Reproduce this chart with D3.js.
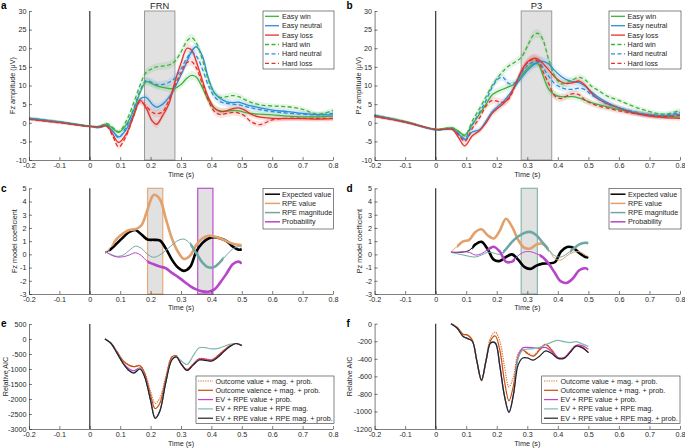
<!DOCTYPE html>
<html><head><meta charset="utf-8">
<script src="https://cdn.jsdelivr.net/npm/d3@7"></script>
<style>body{margin:0;background:#fff;overflow:hidden}</style>
</head><body><script>
// ---------------- DATA ----------------
const xTickValues = [-0.2,-0.1,0,0.1,0.2,0.3,0.4,0.5,0.6,0.7,0.8];
const xTickLabels = ["-0.2","-0.1","0","0.1","0.2","0.3","0.4","0.5","0.6","0.7","0.8"];
const yTicksAB = [-10,-5,0,5,10,15,20,25,30];
const yTicksCD = [-3,-2,-1,0,1,2,3,4,5];
const yTicksE = [-3000,-2500,-2000,-1500,-1000,-500,0,500];
const yTicksF = [-1200,-1000,-800,-600,-400,-200,0];

const conditionNames = ["Easy win","Easy neutral","Easy loss","Hard win","Hard neutral","Hard loss"];
const regressorNames = ["Expected value","RPE value","RPE magnitude","Probability"];
const modelNames = ["Outcome value + mag. + prob.","Outcome valence + mag. + prob.","EV + RPE value + prob.","EV + RPE value + RPE mag.","EV + RPE value + RPE mag. + prob."];

const frnWindow = [0.18,0.28];
const p3Window = [0.28,0.38];
const fzCoefWindows = [[0.19,0.24],[0.355,0.405]];
const pzCoefWindows = [[0.28,0.333]];

// ERP time grid (s)
const timeAB = [-0.2,-0.1,0,0.03,0.055,0.075,0.095,0.12,0.145,0.165,0.185,0.205,0.22,0.24,0.26,0.28,0.3,0.32,0.335,0.35,0.37,0.39,0.41,0.43,0.45,0.47,0.49,0.51,0.53,0.56,0.6,0.65,0.7,0.75,0.8];
const semAB = [0.4,0.4,0.3,0.3,0.4,0.5,0.6,0.7,0.8,0.9,1.0,1.0,1.0,1.0,1.0,1.1,1.1,1.2,1.2,1.2,1.2,1.1,1.0,0.9,0.9,0.9,0.9,0.8,0.8,0.8,0.7,0.7,0.7,0.7,0.7];

// Fz amplitude (uV)
const fzEasyWin     = [1.2,0.2,-0.9,-1.0,-0.4,-1.5,-2.6,-0.5,3.5,8.0,11.0,10.5,9.9,9.5,9.2,9.2,10.3,12.0,12.7,12.3,9.5,6.0,3.8,3.2,3.1,3.3,3.2,2.8,2.5,2.3,2.1,1.8,1.6,1.6,1.8];
const fzEasyNeutral = [1.2,0.2,-1.0,-1.3,-0.8,-2.2,-3.8,-1.8,2.5,6.3,6.8,5.0,4.2,5.0,6.8,9.5,12.8,16.5,19.2,20.4,18.0,12.0,8.0,6.5,5.6,5.4,5.5,5.0,4.5,4.0,3.4,3.0,2.5,2.2,2.1];
const fzEasyLoss    = [1.0,0.1,-1.0,-1.1,-0.8,-3.0,-5.3,-3.0,2.0,6.0,4.0,0.5,-0.4,2.0,5.0,11.0,16.0,20.0,19.5,16.5,11.5,6.8,4.0,3.0,3.2,3.8,4.0,3.4,2.3,1.5,1.2,1.1,1.1,1.0,1.1];
const fzHardWin     = [1.2,0.2,-0.9,-1.0,-0.2,-1.2,-2.4,0.5,5.5,10.0,13.5,14.5,15.0,15.2,15.5,16.5,19.0,22.0,22.8,21.5,17.0,11.5,8.0,6.8,7.0,7.3,7.0,6.2,5.5,4.8,4.5,4.3,3.6,2.3,3.3];
const fzHardNeutral = [1.2,0.2,-1.0,-1.3,-0.8,-2.2,-4.0,-1.0,4.0,8.5,11.3,10.8,10.2,10.3,10.8,12.0,14.5,17.5,18.8,18.0,14.5,10.0,7.0,5.6,5.2,5.0,4.8,4.4,4.0,3.5,3.0,2.6,2.3,2.1,2.5];
const fzHardLoss    = [0.9,0.0,-1.0,-1.1,-0.9,-3.5,-6.5,-3.5,2.0,5.6,4.5,2.8,2.4,3.0,6.0,10.0,13.5,16.2,16.4,14.8,10.5,6.0,3.0,2.2,2.5,2.8,2.6,1.8,0.3,-0.5,0.8,1.2,1.2,1.2,1.2];

// Pz amplitude (uV)
const pzEasyWin     = [2.0,0.3,-1.8,-1.5,-1.4,-2.3,-3.3,-0.5,2.5,5.0,7.5,8.5,9.0,9.7,10.5,12.5,14.5,15.8,15.8,13.0,9.0,7.5,7.0,7.0,7.0,6.6,6.0,5.4,4.9,4.3,3.5,2.7,2.1,1.8,1.5];
const pzEasyNeutral = [2.0,0.2,-1.9,-1.8,-1.8,-3.0,-4.5,-2.5,-1.8,0.5,3.0,4.5,5.5,7.5,9.8,12.0,14.0,15.5,16.3,16.5,15.8,14.0,12.5,11.5,11.0,10.8,9.8,8.3,7.0,5.5,4.0,2.8,2.0,1.8,2.3];
const pzEasyLoss    = [1.7,0.2,-1.8,-1.7,-1.8,-4.0,-6.2,-3.5,-2.0,0.0,2.5,4.0,5.0,6.8,10.0,13.8,16.3,17.3,17.0,16.0,14.2,12.3,11.0,10.5,10.8,11.2,10.0,8.0,6.5,5.2,4.0,2.6,1.8,1.4,1.2];
const pzHardWin     = [2.0,0.3,-1.8,-1.5,-1.4,-2.3,-3.5,0.5,4.0,7.0,10.0,12.3,13.8,15.3,16.3,17.5,20.5,23.5,24.0,22.5,17.0,12.5,10.5,10.8,11.6,12.2,11.5,9.8,8.8,7.2,6.0,4.3,3.0,2.3,3.3];
const pzHardNeutral = [2.0,0.2,-1.9,-1.8,-1.7,-2.8,-4.2,-0.5,3.0,6.0,9.5,11.8,12.2,10.5,10.8,13.2,15.3,16.3,16.5,15.0,12.5,10.5,9.5,9.0,9.0,9.3,8.8,7.5,6.5,5.0,4.0,3.0,2.2,2.0,2.8];
const pzHardLoss    = [1.7,0.2,-1.8,-1.7,-1.7,-3.3,-5.0,-1.5,1.5,4.5,6.0,5.7,5.5,6.5,10.0,13.5,16.0,17.0,16.5,14.0,10.5,7.2,6.5,7.2,7.8,7.5,6.0,5.2,4.6,4.0,3.2,2.5,2.0,1.7,2.0];

// model coefficient time grid (s)
const timeCD = [0.05,0.07,0.09,0.11,0.13,0.15,0.17,0.19,0.21,0.23,0.25,0.27,0.29,0.31,0.33,0.35,0.37,0.39,0.41,0.43,0.45,0.47,0.49,0.5];
const coefFzEV       = [0.1,0.4,0.85,1.3,1.7,1.85,1.5,1.12,1.1,1.05,0.45,-0.4,-1.0,-1.25,-0.95,0.2,0.85,1.2,1.3,1.2,1.0,0.6,0.35,0.38];
const coefFzRpeValue = [0.13,0.6,1.2,1.6,1.85,1.9,2.2,3.4,4.5,4.2,2.7,1.2,0.2,-0.35,-0.1,0.7,1.2,1.4,1.35,1.2,1.0,0.8,0.72,0.7];
const coefFzRpeMag   = [0.2,0.0,-0.15,-0.05,0.3,0.62,0.45,0.0,-0.22,-0.05,0.3,0.7,1.05,1.15,0.8,0.1,-0.6,-0.98,-0.95,-0.55,-0.05,0.4,0.6,0.55];
const coefFzProb     = [0.25,-0.05,-0.2,-0.18,-0.05,0.12,-0.1,-0.55,-0.75,-0.92,-1.05,-1.4,-1.7,-2.05,-2.4,-2.65,-2.8,-2.83,-2.65,-2.1,-1.45,-0.75,-0.55,-0.7];
const coefPzEV       = [0.15,0.15,0.18,0.3,0.75,0.95,0.4,-0.4,-0.5,-0.2,0.0,-0.4,-0.95,-1.1,-0.85,-0.7,-0.68,-0.6,0.2,0.55,0.5,0.1,-0.2,-0.23];
const coefPzRpeValue = [0.2,0.6,0.98,1.1,1.7,1.9,1.45,1.2,1.8,2.7,2.1,1.1,0.5,0.45,0.75,0.8,0.35,-0.3,-0.43,-0.1,0.15,0.2,-0.05,-0.18];
const coefPzRpeMag   = [0.15,0.05,-0.05,-0.15,-0.2,-0.05,0.15,0.1,0.0,0.4,0.95,1.35,1.62,1.7,1.45,0.9,0.35,-0.1,-0.2,0.05,0.4,0.75,0.88,0.85];
const coefPzProb     = [0.2,0.15,0.2,0.15,-0.05,0.05,0.35,0.58,0.2,-0.55,-0.55,-0.1,0.18,0.2,0.05,-0.2,-0.7,-1.4,-2.05,-2.15,-1.8,-1.2,-1.05,-1.15];
// significant (thick) stretches per regressor
const sigFz = [[[0.065,0.5]],[[0.075,0.5]],[[0.33,0.44]],[[0.19,0.5]]];
const sigPz = [[[0.12,0.5]],[[0.07,0.37]],[[0.22,0.37],[0.44,0.5]],[[0.17,0.26],[0.34,0.5]]];

// relative AIC
const timeE = [0.05,0.07,0.09,0.11,0.13,0.145,0.165,0.18,0.2,0.215,0.23,0.25,0.27,0.285,0.3,0.32,0.34,0.36,0.38,0.4,0.42,0.44,0.46,0.48,0.5];
const aicFzOutcomeValue   = [0,-140,-430,-730,-880,-920,-880,-1100,-1750,-2150,-1980,-1250,-600,-560,-820,-1010,-830,-650,-660,-690,-560,-380,-220,-150,-220];
const aicFzOutcomeValence = [0,-140,-430,-730,-880,-920,-890,-1130,-1880,-2320,-2150,-1330,-600,-560,-830,-1020,-840,-660,-670,-700,-570,-390,-230,-150,-220];
const aicFzEvRpeProb      = [0,-150,-470,-800,-1000,-1060,-960,-1220,-2030,-2620,-2400,-1430,-680,-590,-820,-1040,-860,-680,-690,-720,-600,-420,-250,-150,-220];
const aicFzEvRpeMag       = [0,-150,-480,-820,-1060,-1120,-990,-1240,-2040,-2640,-2410,-1440,-690,-590,-720,-850,-560,-290,-290,-330,-320,-250,-180,-150,-200];
const aicFzFull           = [0,-150,-480,-820,-1060,-1140,-1000,-1250,-2050,-2650,-2420,-1450,-700,-600,-820,-1050,-870,-700,-710,-740,-620,-430,-260,-150,-220];

const timeF = [0.05,0.07,0.09,0.105,0.12,0.135,0.15,0.165,0.18,0.195,0.21,0.225,0.24,0.255,0.27,0.285,0.3,0.32,0.34,0.36,0.38,0.4,0.42,0.44,0.46,0.48,0.5];
const aicPzOutcomeValue   = [0,-40,-120,-130,-190,-430,-650,-400,-160,-95,-200,-480,-720,-600,-340,-290,-330,-360,-290,-235,-300,-385,-390,-320,-250,-270,-330];
const aicPzOutcomeValence = [0,-40,-120,-130,-190,-430,-650,-420,-190,-140,-300,-650,-880,-700,-380,-300,-340,-370,-300,-235,-300,-385,-390,-320,-250,-270,-330];
const aicPzEvRpeProb      = [0,-50,-145,-170,-200,-430,-640,-420,-220,-220,-480,-820,-1010,-800,-380,-275,-270,-275,-280,-270,-320,-385,-390,-320,-245,-250,-290];
const aicPzEvRpeMag       = [0,-50,-145,-170,-200,-430,-640,-420,-215,-215,-480,-820,-1000,-800,-400,-300,-290,-285,-270,-240,-210,-190,-205,-215,-205,-230,-260];
const aicPzFull           = [0,-50,-145,-170,-200,-430,-640,-420,-220,-220,-480,-820,-1010,-800,-470,-390,-390,-415,-370,-310,-340,-395,-395,-330,-255,-275,-330];

// ---------------- STYLE ----------------
const FONT = '"Liberation Sans", Arial, Helvetica, sans-serif';
const FS = 7.2;
const AXC = '#262626';
const condColors = ['#3cb43c','#2b8fd8','#e4322b','#3cb43c','#2b8fd8','#e4322b'];
const condDash = [null,null,null,'4,2.5','4,2.5','4,2.5'];
const regColors = ['#000000','#e2a06a','#6fa8a3','#b646c8'];
const modelColors = ['#d9733a','#cc4c0a','#c640d0','#80b8b0','#222222'];
const modelDash = ['1.3,1.1',null,null,null,null];

const svg = d3.select('body').append('svg').attr('width',685).attr('height',448);
let clipId = 0;

function scales(box, ydom){
  return {x: d3.scaleLinear().domain([-0.2,0.8]).range([box.x0,box.x1]),
          y: d3.scaleLinear().domain(ydom).range([box.y1,box.y0])};
}
function curveLine(s){
  return d3.line().x(d=>s.x(d[0])).y(d=>s.y(d[1])).curve(d3.curveCatmullRom.alpha(0.5));
}
function drawAxes(box, s, yTicks){
  const gx = svg.append('g').attr('transform',`translate(0,${box.y1})`)
    .call(d3.axisBottom(s.x).tickValues(xTickValues).tickFormat((d,i)=>xTickLabels[i]).tickSizeInner(-3).tickSizeOuter(0).tickPadding(3));
  const gy = svg.append('g').attr('transform',`translate(${box.x0},0)`)
    .call(d3.axisLeft(s.y).tickValues(yTicks).tickFormat(d=>String(d)).tickSizeInner(-3).tickSizeOuter(0).tickPadding(2.5));
  [gx,gy].forEach(g=>{
    g.attr('font-size',FS).attr('font-family',FONT);
    g.selectAll('text').attr('fill',AXC);
    g.selectAll('line,path').attr('stroke',AXC).attr('stroke-width',0.6);
  });
}
function text(x,y,str,opt={}){
  const t = svg.append('text').attr('x',x).attr('y',y).text(str)
    .attr('font-family',FONT).attr('font-size',opt.size||FS).attr('fill',opt.fill||AXC)
    .attr('text-anchor',opt.anchor||'start');
  if(opt.bold) t.attr('font-weight','bold');
  if(opt.rotate) t.attr('transform',`rotate(-90,${x},${y})`);
  return t;
}
function zeroLine(box,s){
  svg.append('line').attr('x1',s.x(0)).attr('x2',s.x(0)).attr('y1',box.y0).attr('y2',box.y1)
    .attr('stroke','#333').attr('stroke-width',1.2);
}
function windowRect(s, w, stroke, sw){
  const [d0,d1] = s.y.domain();
  svg.append('rect').attr('x',s.x(w[0])).attr('width',s.x(w[1])-s.x(w[0]))
    .attr('y',s.y(d1)).attr('height',s.y(d0)-s.y(d1))
    .attr('fill','#e2e1e2').attr('stroke',stroke).attr('stroke-width',sw);
}
function legend(x0,x1,y0,y1,rowY,names,colors,dashes,widths,sx0,sx1,tx){
  svg.append('rect').attr('x',x0).attr('y',y0).attr('width',x1-x0).attr('height',y1-y0)
    .attr('fill','#fff').attr('stroke','#333').attr('stroke-width',0.6);
  names.forEach((n,i)=>{
    const yy = rowY[i];
    const l = svg.append('line').attr('x1',sx0).attr('x2',sx1).attr('y1',yy).attr('y2',yy)
      .attr('stroke',colors[i]).attr('stroke-width',widths[i]);
    if(dashes[i]) l.attr('stroke-dasharray',dashes[i]);
    text(tx,yy+2.5,n);
  });
}

// ---------------- ERP PANELS (a, b) ----------------
function erpPanel(box, series, win, title, ylabel, ylx, letter, lpos, leg){
  const s = scales(box,[-10,30]);
  windowRect(s, win, '#9a9a9a', 1);
  zeroLine(box,s);
  const area = d3.area().x(d=>s.x(d[0])).y0(d=>s.y(d[1]-d[2])).y1(d=>s.y(d[1]+d[2])).curve(d3.curveCatmullRom.alpha(0.5));
  series.forEach((vals,i)=>{
    const pts = timeAB.map((t,k)=>[t,vals[k],semAB[k]]);
    svg.append('path').attr('d',area(pts)).attr('fill',condColors[i]).attr('fill-opacity',0.13).attr('stroke','none');
  });
  series.forEach((vals,i)=>{
    const pts = timeAB.map((t,k)=>[t,vals[k]]);
    const p = svg.append('path').attr('d',curveLine(s)(pts)).attr('fill','none')
      .attr('stroke',condColors[i]).attr('stroke-width',1.3);
    if(condDash[i]) p.attr('stroke-dasharray',condDash[i]);
  });
  drawAxes(box,s,yTicksAB);
  text(s.x((win[0]+win[1])/2), 9.3, title, {anchor:'middle', size:9.4});
  text(ylx,(box.y0+box.y1)/2,ylabel,{anchor:'middle',rotate:true});
  text((box.x0+box.x1)/2, box.y1+17.3, 'Time (s)', {anchor:'middle'});
  text(lpos[0],lpos[1],letter,{bold:true,size:10,fill:'#000'});
  const rows = [16.3,25.7,35.1,44.5,53.9,63.3];
  legend(leg[0],leg[1],11,69,rows,conditionNames,condColors,condDash,[1.3,1.3,1.3,1.3,1.3,1.3],leg[2],leg[3],leg[4]);
}
erpPanel({x0:29,x1:333,y0:11,y1:160},[fzEasyWin,fzEasyNeutral,fzEasyLoss,fzHardWin,fzHardNeutral,fzHardLoss],
  frnWindow,'FRN','Fz amplitude (\u03bcV)',14.5,'a',[1,8.5],[263,334,265,279,282]);
erpPanel({x0:374.6,x1:680,y0:11,y1:160},[pzEasyWin,pzEasyNeutral,pzEasyLoss,pzHardWin,pzHardNeutral,pzHardLoss],
  p3Window,'P3','Pz amplitude (\u03bcV)',360.8,'b',[346.5,8.5],[609,681,611,625,627.5]);

// ---------------- COEFFICIENT PANELS (c, d) ----------------
function coefPanel(box, series, wins, winColors, sig, ylabel, ylx, letter, lpos, leg){
  const s = scales(box,[-3,5]);
  wins.forEach((w,i)=>windowRect(s,w,winColors[i],1.2));
  zeroLine(box,s);
  const line = curveLine(s);
  series.forEach((vals,i)=>{
    const pts = timeCD.map((t,k)=>[t,vals[k]]);
    svg.append('path').attr('d',line(pts)).attr('fill','none').attr('stroke',regColors[i]).attr('stroke-width',1);
    const id = 'clip'+(clipId++);
    const cp = svg.append('clipPath').attr('id',id);
    sig[i].forEach(w=>cp.append('rect').attr('x',s.x(w[0])).attr('width',s.x(w[1])-s.x(w[0]))
      .attr('y',box.y0-10).attr('height',box.y1-box.y0+20));
    svg.append('path').attr('d',line(pts)).attr('fill','none').attr('stroke',regColors[i])
      .attr('stroke-width',2.6).attr('clip-path',`url(#${id})`);
  });
  drawAxes(box,s,yTicksCD);
  text(ylx,(box.y0+box.y1)/2,ylabel,{anchor:'middle',rotate:true});
  text((box.x0+box.x1)/2, box.y1+16, 'Time (s)', {anchor:'middle'});
  text(lpos[0],lpos[1],letter,{bold:true,size:10,fill:'#000'});
  const rows = [194.2,203.4,212.6,221.8];
  legend(leg[0],leg[1],188.3,229,rows,regressorNames,regColors,[null,null,null,null],[1.5,1.5,1.5,1.5],leg[2],leg[3],leg[4]);
}
coefPanel({x0:29,x1:333,y0:188.3,y1:294},[coefFzEV,coefFzRpeValue,coefFzRpeMag,coefFzProb],
  fzCoefWindows,['#e8a878','#c050d0'],sigFz,'Fz model coefficient',17,'c',[1,192],[263,333.5,265,280,282]);
coefPanel({x0:374.6,x1:680,y0:188.3,y1:294},[coefPzEV,coefPzRpeValue,coefPzRpeMag,coefPzProb],
  pzCoefWindows,['#88b8b0'],sigPz,'Pz model coefficient',362,'d',[346.5,192],[609,681,610.5,625.5,628]);

// ---------------- AIC PANELS (e, f) ----------------
function aicPanel(box, ydom, yTicks, time, series, ylx, letter, lpos, leg){
  const s = scales(box,ydom);
  zeroLine(box,s);
  const line = curveLine(s);
  series.forEach((vals,i)=>{
    const pts = time.map((t,k)=>[t,vals[k]]);
    const p = svg.append('path').attr('d',line(pts)).attr('fill','none').attr('stroke',modelColors[i]).attr('stroke-width',1.2);
    if(modelDash[i]) p.attr('stroke-dasharray',modelDash[i]);
  });
  drawAxes(box,s,yTicks);
  text(ylx,(box.y0+box.y1)/2,'Relative AIC',{anchor:'middle',rotate:true});
  text((box.x0+box.x1)/2, box.y1+17.3, 'Time (s)', {anchor:'middle'});
  text(lpos[0],lpos[1],letter,{bold:true,size:10,fill:'#000'});
  const rows = [381,390.3,399.6,408.9,418.2];
  legend(leg[0],leg[1],376,423.3,rows,modelNames,modelColors,modelDash,[1.2,1.2,1.2,1.2,1.2],leg[2],leg[3],leg[4]);
}
aicPanel({x0:29,x1:333,y0:324,y1:429},[-3000,500],yTicksE,timeE,
  [aicFzOutcomeValue,aicFzOutcomeValence,aicFzEvRpeProb,aicFzEvRpeMag,aicFzFull],7.5,'e',[1,327],[196,334,198,213,215.5]);
aicPanel({x0:374.6,x1:680,y0:323.7,y1:429},[-1200,0],yTicksF,timeF,
  [aicPzOutcomeValue,aicPzOutcomeValence,aicPzEvRpeProb,aicPzEvRpeMag,aicPzFull],352.5,'f',[346.5,327],[541.7,680,544,558,560.5]);
</script></body></html>
